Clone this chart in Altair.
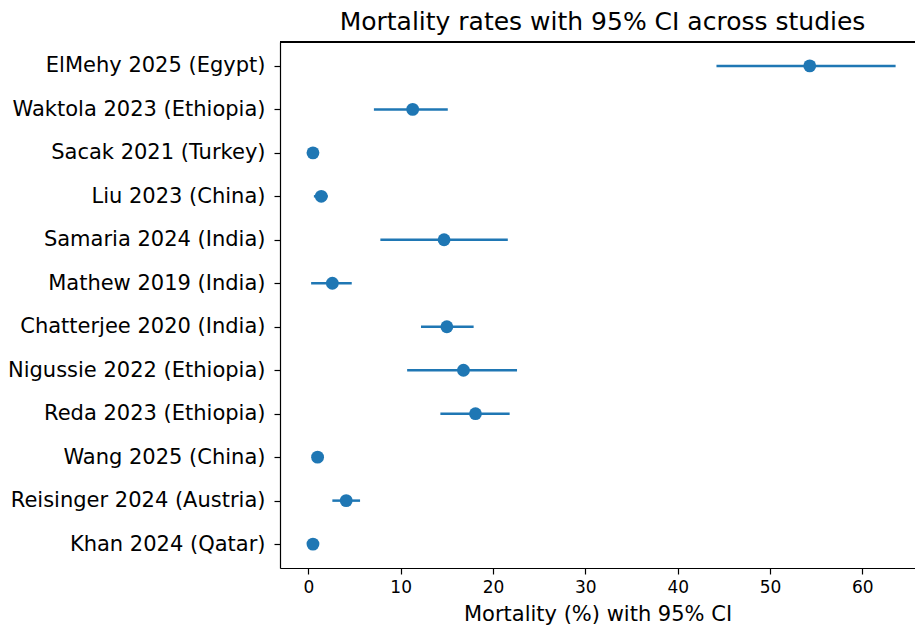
import altair as alt
import pandas as pd

studies = [
    "ElMehy 2025 (Egypt)", "Waktola 2023 (Ethiopia)", "Sacak 2021 (Turkey)",
    "Liu 2023 (China)", "Samaria 2024 (India)", "Mathew 2019 (India)",
    "Chatterjee 2020 (India)", "Nigussie 2022 (Ethiopia)", "Reda 2023 (Ethiopia)",
    "Wang 2025 (China)", "Reisinger 2024 (Austria)", "Khan 2024 (Qatar)",
]
mortality = [54.3, 11.3, 0.5, 1.4, 14.7, 2.6, 15.0, 16.8, 18.1, 1.0, 4.1, 0.5]
ci_low = [44.2, 7.1, 0.1, 0.6, 7.8, 0.3, 12.2, 10.7, 14.3, 0.5, 2.6, 0.1]
ci_high = [63.6, 15.1, 0.9, 2.1, 21.6, 4.7, 17.9, 22.6, 21.8, 1.5, 5.6, 0.9]
x_ticks = [0, 10, 20, 30, 40, 50, 60]

df = pd.DataFrame({"study": studies, "mort": mortality, "lo": ci_low, "hi": ci_high})

FONT = "DejaVu Sans"
COLOR = "#1f77b4"
W, H = 635, 526

y_enc = alt.Y(
    "study:N",
    sort=studies,
    scale=alt.Scale(type="point", padding=0.55),
    axis=alt.Axis(
        title=None, labelFont=FONT, labelFontSize=21, labelColor="#000000",
        labelLimit=400, domain=True, domainColor="#000000", domainWidth=1.2,
        ticks=True, tickSize=6, tickColor="#000000", tickWidth=1.2,
        labelPadding=9, grid=False,
    ),
)
x_scale = alt.Scale(domain=[-3.07, 65.7], nice=False, zero=False)
x_axis = alt.Axis(
    title="Mortality (%) with 95% CI", titleFont=FONT, titleFontSize=21,
    titleFontWeight="normal", titleColor="#000000", titlePadding=8,
    labelFont=FONT, labelFontSize=17, labelColor="#000000", values=x_ticks,
    domain=True, domainColor="#000000", domainWidth=1.2,
    tickSize=6, tickColor="#000000", tickWidth=1.2, labelPadding=5,
    grid=False, format="d",
)

err = alt.Chart(df).mark_rule(color=COLOR, strokeWidth=2.5).encode(
    x=alt.X("lo:Q", scale=x_scale, axis=x_axis),
    x2="hi:Q",
    y=y_enc,
)
pts = alt.Chart(df).mark_circle(color=COLOR, opacity=1, size=165).encode(
    x=alt.X("mort:Q", scale=x_scale, axis=x_axis),
    y=y_enc,
)
top_frame = alt.Chart(df).mark_rule(color="#000000", strokeWidth=1.2).encode(
    x=alt.value(0), x2=alt.value(W), y=alt.value(0)
)

chart = (
    alt.layer(err, pts, top_frame)
    .properties(
        width=W, height=H,
        autosize=alt.AutoSizeParams(type="none"),
        padding={"left": 280, "top": 42, "right": 0, "bottom": 58},
        title=alt.TitleParams(
            "Mortality rates with 95% CI across studies",
            font=FONT, fontSize=25, fontWeight="normal", color="#000000",
            anchor="middle", offset=6, dx=5,
        ),
    )
    .configure_view(stroke=None)
    .configure(background="white")
)

chart.save("out.html", embed_options={"renderer": "svg", "actions": False})
